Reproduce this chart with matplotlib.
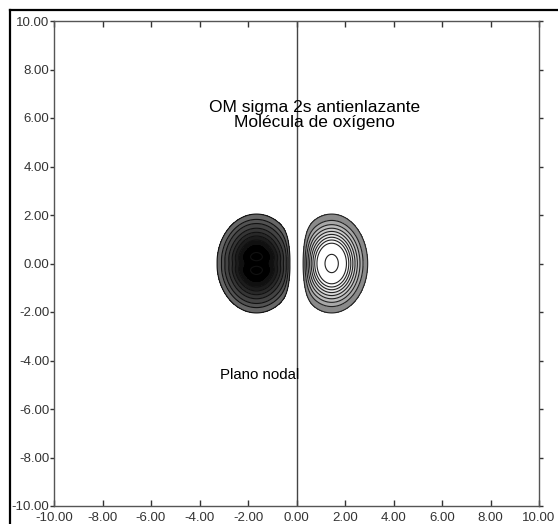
import numpy as np
import matplotlib
matplotlib.use("Agg")
import matplotlib.pyplot as plt

plt.rcParams['font.family'] = ['Liberation Sans', 'DejaVu Sans']

# ejes
x_lim = [-10, 10]
y_lim = [-10, 10]
ticks = [-10, -8, -6, -4, -2, 0, 2, 4, 6, 8, 10]

# lobulos del orbital (centro x, ancho x, ancho y, amplitud, hendidura central, ancho nodal)
lobe_left = [-1.65, 1.12, 1.40, -1.0, 0.13, 0.30]
lobe_right = [1.45, 1.02, 1.40, 1.0, 0.0, 0.35]

# niveles de contorno
levels_left = [-1.3, -0.9, -0.72, -0.62, -0.52, -0.43, -0.34, -0.25, -0.185, -0.12]
levels_right = [0.12, 0.20, 0.27, 0.34, 0.41, 0.48, 0.55, 0.62, 0.70, 0.93, 1.2]
colors_left = ['#000000', '#000000', '#101010', '#1c1c1c', '#282828', '#353535',
               '#434343', '#525252', '#666666']
colors_right = ['#8a8a8a', '#a8a8a8', '#bcbcbc', '#cccccc', '#dadada', '#e6e6e6',
                '#f0f0f0', '#f8f8f8', '#ffffff', '#ffffff']

titulo_1 = "OM sigma 2s antienlazante"
titulo_2 = "Molécula de oxígeno"
nota = "Plano nodal"


def lobe(X, Y, p):
    xc, sx, sy, amp, dip, w = p
    g = np.exp(-((X - xc) ** 2 / sx ** 2 + Y ** 2 / sy ** 2))
    g = g - dip * np.exp(-((X - xc) ** 2 / 0.8 ** 2 + Y ** 2 / 0.2 ** 2))
    return amp * g * (1 - np.exp(-(X / w) ** 2))


xs = np.linspace(-10, 10, 801)
X, Y = np.meshgrid(xs, xs)
Z = np.where(X < 0, lobe(X, Y, lobe_left), lobe(X, Y, lobe_right))

fig = plt.figure(figsize=(5.58, 5.24), dpi=100)
ax = fig.add_axes([54 / 558, 18 / 524, 485 / 558, 485 / 524])

ax.contourf(X, Y, Z, levels=levels_left, colors=colors_left)
ax.contour(X, Y, Z, levels=levels_left[1:], colors='#111111', linewidths=0.8,
           linestyles='solid')
ax.contourf(X, Y, Z, levels=levels_right, colors=colors_right)
ax.contour(X, Y, Z, levels=levels_right[:-1], colors='#222222', linewidths=0.8,
           linestyles='solid')

ax.axvline(0, color='#444444', lw=1.0)

ax.set_xlim(x_lim)
ax.set_ylim(y_lim)
ax.set_xticks(ticks)
ax.set_yticks(ticks)
ax.set_xticklabels([f"{t:.2f}" for t in ticks])
ax.set_yticklabels([f"{t:.2f}" for t in ticks])
ax.tick_params(axis='both', labelsize=9.5, colors='#333333', length=4, width=1)
ax.tick_params(axis='x', direction='in', top=True, pad=4)
ax.tick_params(axis='y', direction='out', right=True, pad=0.5, length=3)
for s in ax.spines.values():
    s.set_color('#555555')
    s.set_linewidth(1.0)

ax.text(0.73, 6.45, titulo_1, ha='center', va='center', fontsize=12.5)
ax.text(0.73, 5.83, titulo_2, ha='center', va='center', fontsize=12.5)
ax.text(-1.5, -4.6, nota, ha='center', va='center', fontsize=10.8)

# marco exterior
fig.add_artist(plt.Line2D([10 / 558, 10 / 558], [0, 1 - 10 / 524], color='black', lw=1.6))
fig.add_artist(plt.Line2D([10 / 558, 1], [1 - 10 / 524, 1 - 10 / 524], color='black', lw=1.6))

fig.savefig("out.png", dpi=100)
